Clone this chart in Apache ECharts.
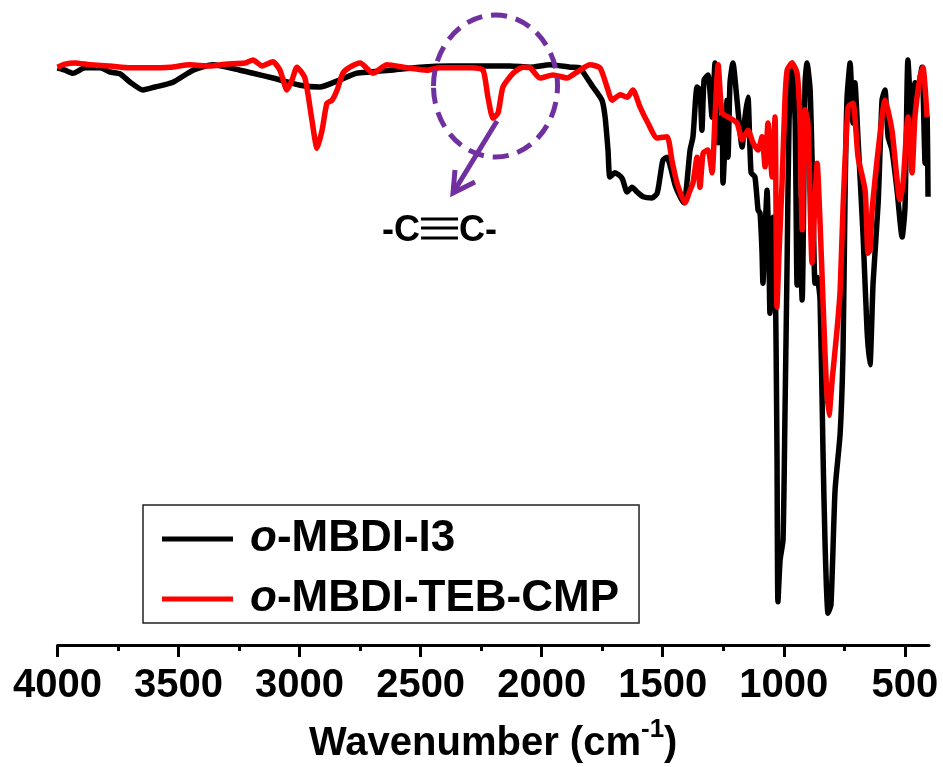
<!DOCTYPE html>
<html>
<head>
<meta charset="utf-8">
<script src="https://cdn.jsdelivr.net/npm/echarts@6/dist/echarts.min.js"></script>
<style>
html,body{margin:0;padding:0;background:#fff;}
#chart{width:943px;height:767px;}
</style>
</head>
<body>
<div id="chart"></div>
<script>
// ---- data (wavenumber in cm-1, transmittance in arbitrary %) ----
const i3Wavenumber = [4000,3969,3936,3886,3824,3783,3742,3700,3647,3597,3523,3440,3358,3246,3192,3110,2998,2916,2833,2763,2709,2626,2503,2379,2255,2131,2048,1965,1883,1842,1829,1788,1751,1738,1726,1718,1697,1668,1647,1627,1606,1581,1544,1523,1511,1499,1482,1470,1449,1428,1412,1387,1375,1358,1346,1338,1329,1313,1296,1284,1271,1255,1251,1234,1230,1222,1210,1193,1172,1160,1148,1135,1119,1106,1098,1090,1086,1077,1069,1061,1057,1048,1044,1036,1028,1024,1015,1003,995,986,978,966,953,945,937,924,912,904,891,879,871,862,850,838,829,817,805,788,767,755,747,739,726,714,706,693,672,656,644,631,610,594,582,569,553,532,511,499,487,470,458,445,429,416,408,404];
const i3Transmittance = [96.2,95.8,95.3,96.2,96.2,95.5,95.2,93.8,92.5,93.0,93.8,95.8,96.7,95.8,95.3,94.5,93.3,93.0,94.2,95.3,95.5,95.8,96.3,96.5,96.5,96.5,96.3,96.7,96.3,96.2,95.5,93.0,90.8,88.0,82.5,78.0,78.7,77.8,75.5,76.3,75.5,74.7,74.5,75.3,78.0,80.8,81.3,80.0,76.7,74.7,73.7,82.5,84.7,93.0,92.5,85.8,94.2,95.0,88.0,97.0,83.7,88.0,77.0,90.8,81.3,93.7,97.0,90.8,83.0,88.0,91.3,78.7,78.0,72.5,72.0,65.8,60.3,69.2,75.8,64.2,55.3,65.8,71.3,65.8,32.5,7.2,14.2,17.5,38.3,64.2,87.5,97.0,87.5,60.0,74.2,57.5,93.7,97.0,92.5,74.2,60.3,61.3,57.5,32.5,16.3,5.3,6.7,25.8,35.3,49.2,74.2,90.8,97.0,87.0,93.7,84.2,68.0,52.5,46.7,60.3,73.7,90.8,92.5,84.7,82.5,75.8,68.0,73.0,97.5,85.8,93.7,93.3,96.3,80.3,88.0,74.7];

const cmpWavenumber = [4000,3969,3928,3866,3783,3700,3618,3535,3453,3370,3308,3225,3192,3155,3110,3081,3052,3031,3011,2978,2949,2928,2907,2887,2866,2845,2821,2792,2750,2697,2639,2556,2474,2420,2284,2242,2222,2201,2180,2160,2118,2077,2048,2007,1953,1895,1854,1800,1759,1730,1709,1676,1647,1623,1594,1561,1523,1482,1462,1441,1408,1387,1375,1358,1346,1333,1313,1296,1284,1271,1255,1230,1193,1172,1148,1127,1106,1090,1077,1065,1048,1036,1028,1019,1007,995,986,966,945,933,924,912,900,883,871,862,850,838,825,813,800,780,767,755,734,714,693,664,652,644,635,602,582,553,520,507,487,470,458,437,425,408];
const cmpTransmittance = [96.3,96.8,97.0,96.7,96.5,96.2,96.2,96.3,96.7,96.5,96.8,97.0,97.5,96.5,97.2,95.8,92.5,94.2,96.3,94.5,87.5,82.8,85.8,90.3,90.8,92.5,95.3,96.3,97.0,95.3,96.7,96.2,95.8,96.2,96.2,95.8,91.3,87.8,88.7,93.0,95.3,96.3,96.2,94.5,95.0,94.5,95.5,96.7,96.2,93.0,90.8,91.7,91.3,92.5,89.7,87.0,84.5,84.7,80.8,77.0,73.7,75.8,77.0,81.3,76.3,82.0,82.5,78.7,88.0,96.7,88.7,88.0,87.0,84.2,85.8,83.7,82.5,84.7,79.7,87.0,78.0,88.0,56.3,65.8,77.0,90.8,95.8,97.0,95.3,87.5,69.2,89.2,87.0,63.7,74.2,80.3,70.3,57.5,44.2,38.3,44.2,52.5,59.2,73.0,89.7,90.3,81.3,75.8,65.3,65.8,72.5,85.3,90.8,85.8,74.2,77.0,88.0,78.7,88.0,94.7,96.3,88.0];

const majorTicks = [4000,3500,3000,2500,2000,1500,1000,500];
const minorTicks = [3750,3250,2750,2250,1750,1250,750];
const seriesNames = ['o-MBDI-I3','o-MBDI-TEB-CMP'];
const seriesColors = ['#000000','#ff0000'];

const FONT = 'Arial, "Liberation Sans", Helvetica, sans-serif';

function zip(a,b){ return a.map((v,i)=>[v,b[i]]); }

const chart = echarts.init(document.getElementById('chart'), null, {renderer:'canvas'});

const option = {
  animation:false,
  backgroundColor:'#ffffff',
  grid:{left:57.5, right:14, top:45, bottom:122, containLabel:false, outerBoundsMode:'none'},
  xAxis:[{
    type:'value', min:400, max:4000, inverse:true,
    position:'bottom',
    name:'Wavenumber (cm{sup|-1}{n|)}',
    nameLocation:'middle', nameGap:72,
    nameTextStyle:{fontFamily:FONT, fontWeight:'bold', fontSize:40, color:'#000',
      rich:{sup:{fontFamily:FONT, fontWeight:'bold', fontSize:26, color:'#000', verticalAlign:'top', padding:[0,0,28,0]},
            n:{fontFamily:FONT, fontWeight:'bold', fontSize:40, color:'#000'}}},
    axisLine:{show:true, onZero:false, lineStyle:{color:'#000', width:3}},
    axisTick:{show:true, customValues:majorTicks, length:12, lineStyle:{color:'#000', width:3}},
    axisLabel:{show:true, customValues:majorTicks, margin:21, fontFamily:FONT, fontWeight:'bold', fontSize:40, color:'#000',
      formatter:function(v){ return String(v); }},
    splitLine:{show:false}
  },{
    type:'value', min:400, max:4000, inverse:true,
    position:'bottom',
    axisLine:{show:false},
    axisTick:{show:true, customValues:minorTicks, length:6, lineStyle:{color:'#000', width:3}},
    axisLabel:{show:false},
    splitLine:{show:false}
  }],
  yAxis:{type:'value', min:0, max:100, show:false},
  legend:{
    orient:'vertical', left:143, top:505,
    padding:[12,20,2,19],
    itemGap:16, itemWidth:71, itemHeight:5, icon:'rect',
    borderColor:'#222', borderWidth:1.5,
    data:seriesNames,
    formatter:function(name){ return '{i|o}{n|' + name.slice(1) + '}'; },
    textStyle:{fontFamily:FONT, fontWeight:'bold', fontSize:44, lineHeight:42, color:'#000', padding:[0,0,0,12],
      rich:{i:{fontFamily:FONT, fontWeight:'bold', fontStyle:'italic', fontSize:44, color:'#000'},
            n:{fontFamily:FONT, fontWeight:'bold', fontSize:44, color:'#000'}}}
  },
  series:[
    {name:seriesNames[0], type:'line', xAxisIndex:0, data:zip(i3Wavenumber,i3Transmittance),
     showSymbol:false, smooth:0.2, lineStyle:{color:seriesColors[0], width:5.5, join:'round'}, itemStyle:{color:seriesColors[0]}, z:2},
    {name:seriesNames[1], type:'line', xAxisIndex:0, data:zip(cmpWavenumber,cmpTransmittance),
     showSymbol:false, smooth:0.2, lineStyle:{color:seriesColors[1], width:5.5, join:'round'}, itemStyle:{color:seriesColors[1]}, z:3}
  ],
  graphic:[
    {type:'ellipse', shape:{cx:495.5, cy:86, rx:62, ry:71}, z:10,
     style:{fill:'none', stroke:'#7030A0', lineWidth:5, lineDash:[16,9]}},
    {type:'line', shape:{x1:497, y1:121, x2:453, y2:193}, z:10,
     style:{stroke:'#7030A0', lineWidth:5}},
    {type:'polyline', shape:{points:[[455,170],[453,193],[475,182]]}, z:10,
     style:{stroke:'#7030A0', lineWidth:5, fill:'none'}},
    {type:'text', z:10, style:{text:'-C', x:420, y:231, align:'right', verticalAlign:'middle', font:'bold 36px ' + FONT, fill:'#000'}},
    {type:'text', z:10, style:{text:'C-', x:459, y:231, align:'left', verticalAlign:'middle', font:'bold 36px ' + FONT, fill:'#000'}},
    {type:'line', shape:{x1:421, y1:219, x2:458, y2:219}, z:10, style:{stroke:'#000', lineWidth:3}},
    {type:'line', shape:{x1:421, y1:228, x2:458, y2:228}, z:10, style:{stroke:'#000', lineWidth:3}},
    {type:'line', shape:{x1:421, y1:238, x2:458, y2:238}, z:10, style:{stroke:'#000', lineWidth:3}}
  ]
};
chart.setOption(option);
</script>
</body>
</html>
